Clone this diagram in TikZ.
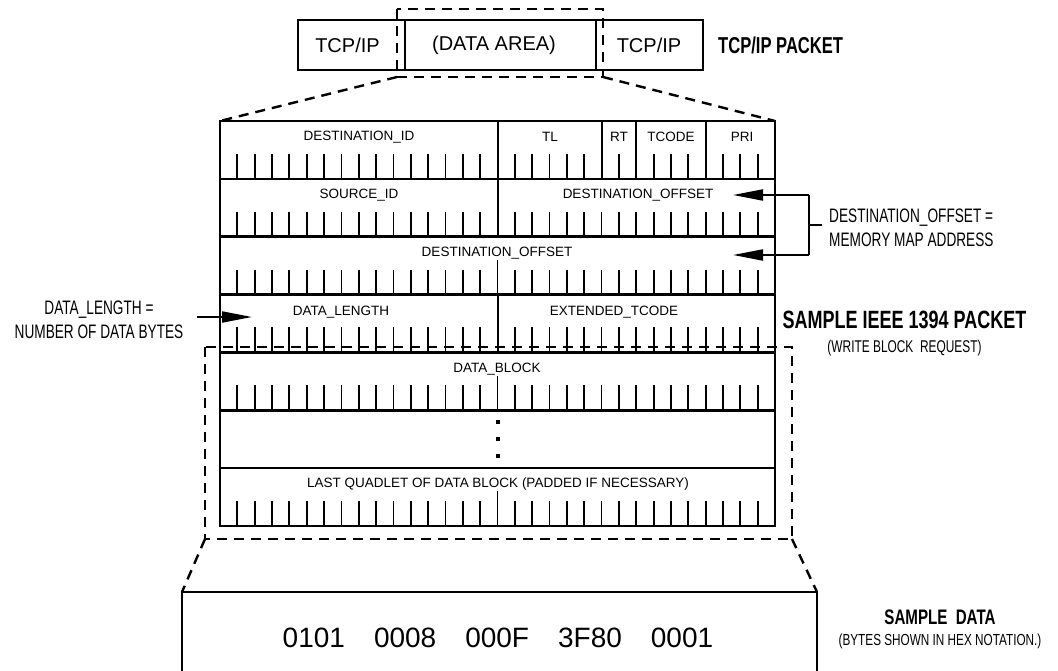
\documentclass[tikz,border=0pt]{standalone}
\usepackage{fontspec}
\setmainfont{Liberation Sans}
\newfontfamily\narrowfont[FakeStretch=0.7]{Liberation Sans}
\newfontfamily\narrowbold[FakeStretch=0.72]{Liberation Sans Bold}
\usetikzlibrary{arrows.meta}
\tikzset{
  frame/.style={line width=2.6pt},
  divider/.style={line width=2pt},
  tickline/.style={line width=1.8pt},
  dashline/.style={line width=2.4pt, dash pattern=on 10pt off 7pt},
  field/.style={font=\fontsize{13.5}{15}\selectfont, inner sep=0pt},
  boxtext/.style={font=\fontsize{20}{22}\selectfont, inner sep=0pt},
  note/.style={font={\narrowfont\fontsize{19.5}{24}\selectfont}, inner sep=0pt},
  title/.style={font={\narrowbold\fontsize{25}{28}\selectfont}, inner sep=0pt},
  subtitle/.style={font={\narrowfont\fontsize{17}{19}\selectfont}, inner sep=0pt},
  ptr/.style={line width=2pt, -{Triangle[length=30pt,width=11pt]}},
}
\begin{document}
\begin{tikzpicture}[x=1pt,y=-1pt]
\useasboundingbox (0,0) rectangle (1058,671);

% ---------- TCP/IP packet ----------
\draw[frame] (298,20) rectangle (703,70);
\draw[divider] (405,20) -- (405,70);
\draw[divider] (596,20) -- (596,70);
\node[boxtext] (tcp1) at (347.5,45) {TCP/IP};
\node[boxtext] (data) at (494,45) {(DATA AREA)};
\node[boxtext] (tcp2) at (649,45) {TCP/IP};
\node[title, font={\narrowbold\fontsize{23}{26}\selectfont}, anchor=west] (tcplabel) at (718,45) {TCP/IP PACKET};
\coordinate (da1) at (397,9);
\coordinate (da2) at (603,77);
\draw[dashline] (da1) rectangle (da2);

% ---------- IEEE 1394 table ----------
\coordinate (tl) at (220,121);
\coordinate (tr) at (775,121);
\coordinate (br) at (775,526);
\draw[dashline] (397,77) -- (tl);
\draw[dashline] (603,77) -- (tr);

\draw[frame] (tl) rectangle (br);
\foreach \y in {178.9,236.7,294.6,352.4,410.3,468.1}
  \draw[frame] (220,\y) -- (775,\y);
% field dividers
\draw[divider] (497.5,121) -- (497.5,236.7);
\draw[divider] (601.6,121) -- (601.6,178.9);
\draw[divider] (636.3,121) -- (636.3,178.9);
\draw[divider] (705.6,121) -- (705.6,178.9);
\draw[divider] (497.5,294.6) -- (497.5,352.4);

% ticks row 1
\foreach \j in {1,...,15,17,18,19,20,21,23,25,26,27,29,30,31}
  \draw[tickline] ({220+\j*17.34375},153.9) -- ++(0,25);
% ticks rows 2,3,4,5,7
\foreach \yb in {236.7,294.6,352.4,410.3,526}
  \foreach \j in {1,...,15,17,18,...,31}
    \draw[tickline] ({220+\j*17.34375},\yb-25) -- ++(0,25);
% tall centre ticks
\draw[tickline] (497.5,260) -- (497.5,294.6);
\draw[tickline] (497.5,376) -- (497.5,410.3);
\draw[tickline] (497.5,491) -- (497.5,526);

% field texts
\node[field] (destid) at (359,137) {DESTINATION\_ID};
\node[field] (tlf) at (550,137) {TL};
\node[field] (rtf) at (619,137) {RT};
\node[field] (tcode) at (671,137) {TCODE};
\node[field] (pri) at (742,137) {PRI};
\node[field] (srcid) at (359,195) {SOURCE\_ID};
\node[field] (doff1) at (638,195) {DESTINATION\_OFFSET};
\node[field] (doff2) at (497,253) {DESTINATION\_OFFSET};
\node[field] (dlen) at (341,312) {DATA\_LENGTH};
\node[field] (etcode) at (614,312) {EXTENDED\_TCODE};
\node[field] (dblock) at (497,369) {DATA\_BLOCK};
\node[field] (lastq) at (498,484) {LAST QUADLET OF DATA BLOCK (PADDED IF NECESSARY)};
% dots
\foreach \y in {422,439,456}
  \fill (495.5,\y-2) rectangle ++(4,4);

% ---------- annotations ----------
\node[note, align=center] (dlnote) at (99,320) {DATA\_LENGTH =\\NUMBER OF DATA BYTES};
\coordinate (dlstart) at (197,317);
\coordinate (dltip) at (252,317);
\draw[ptr] (dlstart) -- (dltip);

\node[note, align=left, anchor=west] (donote) at (829,227.5) {DESTINATION\_OFFSET =\\MEMORY MAP ADDRESS};
\coordinate (b1) at (809,195);
\coordinate (b2) at (809,255);
\coordinate (bm) at (822,225);
\draw[line width=2pt] (b1) -- (b2);
\draw[line width=2pt] (809,225) -- (bm);
\draw[ptr] (b1) -- (733,195);
\draw[ptr] (b2) -- (733,255);

\node[title] (ieee) at (904.5,320) {SAMPLE IEEE 1394 PACKET};
\node[subtitle] (wbr) at (904.5,348) {(WRITE BLOCK\ \ REQUEST)};

% ---------- data block dashed frame ----------
\coordinate (db1) at (205,347);
\coordinate (db2) at (792,539);
\draw[dashline] (db1) rectangle (db2);
\coordinate (sd1) at (182,592);
\coordinate (sd2) at (817,592);
\draw[dashline] (205,539) -- (sd1);
\draw[dashline] (792,539) -- (sd2);
\draw[frame] (182,672) -- (sd1) -- (sd2) -- (817,672);
\node[font=\fontsize{28}{30}\selectfont, inner sep=0pt] (hex) at (498,638)
  {0101\hspace{29pt}0008\hspace{29pt}000F\hspace{29pt}3F80\hspace{29pt}0001};

\node[title, font={\narrowbold\fontsize{21}{23}\selectfont}] (sdata) at (940,617) {SAMPLE\ \ DATA};
\node[subtitle, font={\narrowfont\fontsize{16}{18}\selectfont}, xscale=1.05] (hexnote) at (940,641) {(BYTES SHOWN IN HEX NOTATION.)};
\end{tikzpicture}
\end{document}
